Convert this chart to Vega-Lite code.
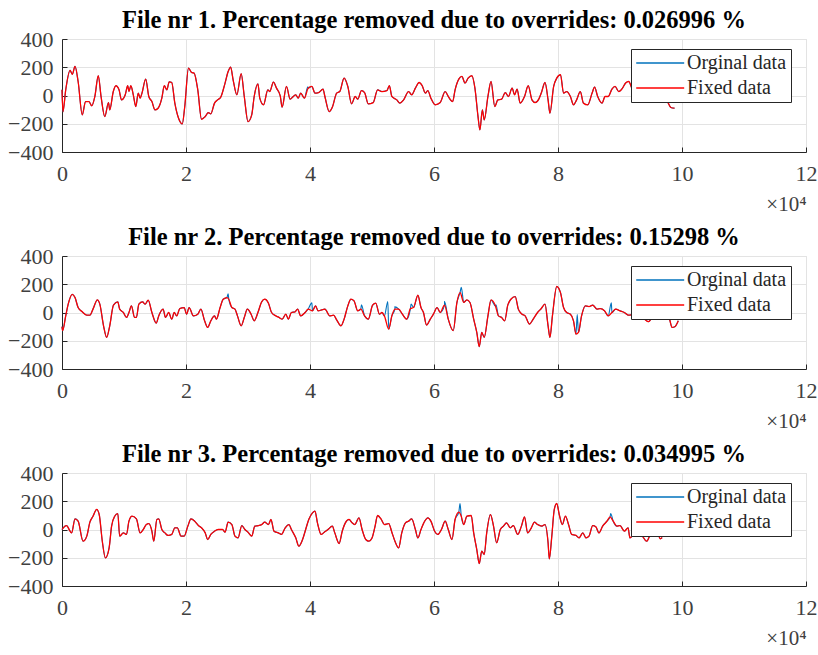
{
  "$schema": "https://vega.github.io/schema/vega-lite/v6.json",
  "padding": {"left": 7, "top": 7, "right": 0, "bottom": 0},
  "background": "white",
  "bounds": "flush",
  "spacing": 104,
  "config": {
    "font": "Liberation Serif",
    "view": {"stroke": "#e3e3e3"},
    "axis": {
      "labelFont": "Liberation Serif", "labelFontSize": 22, "labelColor": "#404040",
      "domainColor": "#262626", "domainWidth": 1, "gridColor": "#e3e3e3",
      "tickColor": "#262626", "tickSize": -5, "labelFlush": false, "titleFont": "Liberation Serif"
    },
    "axisX": {"labelPadding": 16},
    "axisY": {"labelPadding": 14},
    "title": {"font": "Liberation Serif", "fontSize": 24.5, "fontWeight": "bold", "color": "#000000", "anchor": "middle", "frame": "group", "offset": -5}
  },
  "resolve": {"scale": {"color": "independent"}, "legend": {"color": "independent"}},
  "datasets": {
    "d": [
      {"p":1,"x":0,"y":40},{"p":1,"x":150,"y":-115},{"p":1,"x":600,"y":40},{"p":1,"x":1300,"y":178},{"p":1,"x":1660,"y":150},{"p":1,"x":2100,"y":206},{"p":1,"x":2600,"y":99},{"p":1,"x":3270,"y":-137},{"p":1,"x":3800,"y":-43},{"p":1,"x":4350,"y":-43},{"p":1,"x":4800,"y":-73},{"p":1,"x":5300,"y":-7},{"p":1,"x":5850,"y":140},{"p":1,"x":6300,"y":-7},{"p":1,"x":6900,"y":-149},{"p":1,"x":7500,"y":-50},{"p":1,"x":7700,"y":-102},{"p":1,"x":8270,"y":28},{"p":1,"x":8700,"y":69},{"p":1,"x":9200,"y":40},{"p":1,"x":9600,"y":-31},{"p":1,"x":10200,"y":5},{"p":1,"x":10600,"y":69},{"p":1,"x":10800,"y":28},{"p":1,"x":11100,"y":69},{"p":1,"x":11500,"y":5},{"p":1,"x":11900,"y":-78},{"p":1,"x":12300,"y":17},{"p":1,"x":12600,"y":-19},{"p":1,"x":12900,"y":17},{"p":1,"x":13500,"y":116},{"p":1,"x":14000,"y":-7},{"p":1,"x":14500,"y":-43},{"p":1,"x":15000,"y":-102},{"p":1,"x":15500,"y":-90},{"p":1,"x":16100,"y":-19},{"p":1,"x":16500,"y":69},{"p":1,"x":16900,"y":40},{"p":1,"x":17300,"y":97},{"p":1,"x":17700,"y":92},{"p":1,"x":18200,"y":-54},{"p":1,"x":18800,"y":-161},{"p":1,"x":19400,"y":-201},{"p":1,"x":19800,"y":-78},{"p":1,"x":20400,"y":194},{"p":1,"x":20900,"y":163},{"p":1,"x":21300,"y":159},{"p":1,"x":21900,"y":40},{"p":1,"x":22500,"y":-168},{"p":1,"x":23100,"y":-149},{"p":1,"x":23600,"y":-121},{"p":1,"x":24000,"y":-130},{"p":1,"x":24600,"y":-54},{"p":1,"x":25100,"y":-31},{"p":1,"x":25600,"y":-12},{"p":1,"x":26300,"y":88},{"p":1,"x":26800,"y":170},{"p":1,"x":27200,"y":201},{"p":1,"x":27600,"y":111},{"p":1,"x":28200,"y":5},{"p":1,"x":28900,"y":154},{"p":1,"x":29400,"y":-7},{"p":1,"x":30000,"y":-185},{"p":1,"x":30600,"y":-137},{"p":1,"x":31000,"y":-7},{"p":1,"x":31600,"y":83},{"p":1,"x":31900,"y":-19},{"p":1,"x":32500,"y":-66},{"p":1,"x":33200,"y":40},{"p":1,"x":33500,"y":28},{"p":1,"x":34100,"y":95},{"p":1,"x":34600,"y":52},{"p":1,"x":35200,"y":-2},{"p":1,"x":35500,"y":-83},{"p":1,"x":36200,"y":64},{"p":1,"x":36800,"y":-26},{"p":1,"x":37300,"y":-7},{"p":1,"x":37700,"y":5},{"p":1,"x":38100,"y":-19},{"p":1,"x":38500,"y":17},{"p":1,"x":39100,"y":-19},{"p":1,"x":39700,"y":52},{"p":1,"x":40300,"y":64},{"p":1,"x":40800,"y":17},{"p":1,"x":41400,"y":21},{"p":1,"x":42100,"y":45},{"p":1,"x":42400,"y":-7},{"p":1,"x":43100,"y":-114},{"p":1,"x":43600,"y":-83},{"p":1,"x":44300,"y":17},{"p":1,"x":44800,"y":28},{"p":1,"x":45500,"y":123},{"p":1,"x":46100,"y":64},{"p":1,"x":46700,"y":-59},{"p":1,"x":47300,"y":-7},{"p":1,"x":47700,"y":-26},{"p":1,"x":48300,"y":35},{"p":1,"x":48800,"y":21},{"p":1,"x":49400,"y":-59},{"p":1,"x":50200,"y":-50},{"p":1,"x":50900,"y":40},{"p":1,"x":51600,"y":28},{"p":1,"x":52400,"y":35},{"p":1,"x":52800,"y":69},{"p":1,"x":53200,"y":-7},{"p":1,"x":54000,"y":-31},{"p":1,"x":54500,"y":-54},{"p":1,"x":55100,"y":-31},{"p":1,"x":55900,"y":28},{"p":1,"x":56400,"y":5},{"p":1,"x":57000,"y":52},{"p":1,"x":57600,"y":92},{"p":1,"x":58100,"y":69},{"p":1,"x":58600,"y":17},{"p":1,"x":59000,"y":35},{"p":1,"x":59500,"y":-19},{"p":1,"x":60200,"y":-66},{"p":1,"x":61000,"y":-50},{"p":1,"x":61800,"y":28},{"p":1,"x":62300,"y":-7},{"p":1,"x":63000,"y":-43},{"p":1,"x":63400,"y":40},{"p":1,"x":64000,"y":116},{"p":1,"x":64500,"y":135},{"p":1,"x":65000,"y":88},{"p":1,"x":65500,"y":123},{"p":1,"x":66100,"y":140},{"p":1,"x":66600,"y":52},{"p":1,"x":67100,"y":-149},{"p":1,"x":67400,"y":-244},{"p":1,"x":67800,"y":-102},{"p":1,"x":68100,"y":-173},{"p":1,"x":68700,"y":-7},{"p":1,"x":69200,"y":99},{"p":1,"x":69800,"y":-78},{"p":1,"x":70300,"y":-31},{"p":1,"x":70900,"y":-26},{"p":1,"x":71500,"y":21},{"p":1,"x":72000,"y":-7},{"p":1,"x":72600,"y":52},{"p":1,"x":73000,"y":5},{"p":1,"x":73400,"y":45},{"p":1,"x":73900,"y":-54},{"p":1,"x":74600,"y":-7},{"p":1,"x":75200,"y":69},{"p":1,"x":75800,"y":-31},{"p":1,"x":76300,"y":-50},{"p":1,"x":76900,"y":-26},{"p":1,"x":77300,"y":17},{"p":1,"x":77900,"y":92},{"p":1,"x":78400,"y":-31},{"p":1,"x":78700,"y":-125},{"p":1,"x":79300,"y":64},{"p":1,"x":79800,"y":123},{"p":1,"x":80400,"y":147},{"p":1,"x":80900,"y":17},{"p":1,"x":81400,"y":28},{"p":1,"x":82000,"y":-7},{"p":1,"x":82500,"y":-66},{"p":1,"x":83000,"y":-31},{"p":1,"x":83600,"y":28},{"p":1,"x":84100,"y":-54},{"p":1,"x":84800,"y":-66},{"p":1,"x":85500,"y":17},{"p":1,"x":85900,"y":59},{"p":1,"x":86400,"y":-7},{"p":1,"x":87100,"y":-54},{"p":1,"x":87600,"y":-7},{"p":1,"x":88100,"y":-7},{"p":1,"x":88700,"y":45},{"p":1,"x":89200,"y":64},{"p":1,"x":89800,"y":28},{"p":1,"x":90400,"y":52},{"p":1,"x":90900,"y":88},{"p":1,"x":91400,"y":99},{"p":1,"x":92000,"y":40},{"p":1,"x":93000,"y":-20},{"p":1,"x":94000,"y":10},{"p":1,"x":95000,"y":-30},{"p":1,"x":96000,"y":20},{"p":1,"x":97000,"y":-20},{"p":1,"x":97600,"y":-40},{"p":1,"x":98200,"y":-85},{"p":1,"x":98800,"y":-90},
      {"p":1,"x":39650,"y":62,"s":1},

      {"p":2,"x":0,"y":-100},{"p":2,"x":100,"y":-129},{"p":2,"x":600,"y":-24},{"p":2,"x":1000,"y":59},{"p":2,"x":1660,"y":129},{"p":2,"x":2100,"y":106},{"p":2,"x":2600,"y":35},{"p":2,"x":3270,"y":5},{"p":2,"x":4000,"y":-19},{"p":2,"x":4500,"y":-19},{"p":2,"x":5000,"y":24},{"p":2,"x":5700,"y":89},{"p":2,"x":6100,"y":59},{"p":2,"x":6700,"y":-94},{"p":2,"x":7200,"y":-176},{"p":2,"x":7700,"y":-94},{"p":2,"x":8300,"y":52},{"p":2,"x":9000,"y":75},{"p":2,"x":9300,"y":24},{"p":2,"x":9900,"y":0},{"p":2,"x":10400,"y":-35},{"p":2,"x":10800,"y":0},{"p":2,"x":11200,"y":47},{"p":2,"x":11700,"y":-35},{"p":2,"x":12000,"y":-35},{"p":2,"x":12400,"y":59},{"p":2,"x":13000,"y":75},{"p":2,"x":13400,"y":59},{"p":2,"x":13900,"y":87},{"p":2,"x":14500,"y":0},{"p":2,"x":15200,"y":-75},{"p":2,"x":15600,"y":-24},{"p":2,"x":16300,"y":24},{"p":2,"x":16700,"y":-35},{"p":2,"x":17200,"y":0},{"p":2,"x":17700,"y":-47},{"p":2,"x":18100,"y":0},{"p":2,"x":18500,"y":-24},{"p":2,"x":19000,"y":28},{"p":2,"x":19700,"y":35},{"p":2,"x":20100,"y":-12},{"p":2,"x":20500,"y":35},{"p":2,"x":21200,"y":-24},{"p":2,"x":21900,"y":-12},{"p":2,"x":22400,"y":24},{"p":2,"x":23000,"y":-59},{"p":2,"x":23500,"y":-106},{"p":2,"x":24000,"y":-59},{"p":2,"x":24600,"y":-24},{"p":2,"x":24900,"y":-47},{"p":2,"x":25500,"y":35},{"p":2,"x":26000,"y":94},{"p":2,"x":26600,"y":106},{"p":2,"x":26900,"y":94},{"p":2,"x":27400,"y":35},{"p":2,"x":27900,"y":24},{"p":2,"x":28300,"y":-24},{"p":2,"x":28900,"y":-94},{"p":2,"x":29400,"y":-35},{"p":2,"x":29900,"y":24},{"p":2,"x":30500,"y":-12},{"p":2,"x":31000,"y":-59},{"p":2,"x":31600,"y":0},{"p":2,"x":32200,"y":75},{"p":2,"x":32700,"y":94},{"p":2,"x":33300,"y":66},{"p":2,"x":33800,"y":0},{"p":2,"x":34500,"y":-24},{"p":2,"x":35000,"y":-35},{"p":2,"x":35500,"y":-47},{"p":2,"x":36100,"y":-12},{"p":2,"x":36500,"y":-47},{"p":2,"x":37000,"y":0},{"p":2,"x":37600,"y":5},{"p":2,"x":38000,"y":24},{"p":2,"x":38500,"y":-24},{"p":2,"x":39200,"y":0},{"p":2,"x":39700,"y":24},{"p":2,"x":40400,"y":12},{"p":2,"x":40900,"y":47},{"p":2,"x":41300,"y":12},{"p":2,"x":41900,"y":19},{"p":2,"x":42400,"y":24},{"p":2,"x":43200,"y":-24},{"p":2,"x":43800,"y":-19},{"p":2,"x":44300,"y":-52},{"p":2,"x":45000,"y":-94},{"p":2,"x":45500,"y":-47},{"p":2,"x":46100,"y":47},{"p":2,"x":46600,"y":94},{"p":2,"x":47100,"y":82},{"p":2,"x":47700,"y":12},{"p":2,"x":48200,"y":24},{"p":2,"x":48800,"y":-24},{"p":2,"x":49400,"y":-47},{"p":2,"x":50100,"y":52},{"p":2,"x":50600,"y":66},{"p":2,"x":51200,"y":-12},{"p":2,"x":51600,"y":0},{"p":2,"x":52000,"y":-24},{"p":2,"x":52700,"y":-118},{"p":2,"x":53200,"y":-24},{"p":2,"x":53700,"y":24},{"p":2,"x":54300,"y":24},{"p":2,"x":54900,"y":-12},{"p":2,"x":55600,"y":-47},{"p":2,"x":56200,"y":28},{"p":2,"x":56700,"y":35},{"p":2,"x":57400,"y":122},{"p":2,"x":57900,"y":35},{"p":2,"x":58300,"y":0},{"p":2,"x":58800,"y":-89},{"p":2,"x":59400,"y":-47},{"p":2,"x":59900,"y":-12},{"p":2,"x":60500,"y":35},{"p":2,"x":61000,"y":0},{"p":2,"x":61700,"y":52},{"p":2,"x":62300,"y":-47},{"p":2,"x":63100,"y":-129},{"p":2,"x":63700,"y":71},{"p":2,"x":64200,"y":141},{"p":2,"x":64800,"y":71},{"p":2,"x":65300,"y":89},{"p":2,"x":65800,"y":71},{"p":2,"x":66400,"y":-47},{"p":2,"x":66900,"y":-141},{"p":2,"x":67300,"y":-242},{"p":2,"x":67700,"y":-141},{"p":2,"x":68100,"y":-176},{"p":2,"x":68700,"y":-24},{"p":2,"x":69200,"y":89},{"p":2,"x":69900,"y":47},{"p":2,"x":70400,"y":-24},{"p":2,"x":70900,"y":-35},{"p":2,"x":71400,"y":-59},{"p":2,"x":71900,"y":52},{"p":2,"x":72400,"y":94},{"p":2,"x":73100,"y":113},{"p":2,"x":73600,"y":24},{"p":2,"x":74200,"y":-12},{"p":2,"x":74700,"y":-24},{"p":2,"x":75400,"y":-82},{"p":2,"x":76000,"y":-47},{"p":2,"x":76700,"y":0},{"p":2,"x":77300,"y":28},{"p":2,"x":77900,"y":59},{"p":2,"x":78400,"y":-94},{"p":2,"x":78700,"y":-176},{"p":2,"x":79100,"y":-24},{"p":2,"x":79800,"y":184},{"p":2,"x":80400,"y":141},{"p":2,"x":80900,"y":35},{"p":2,"x":81400,"y":0},{"p":2,"x":82000,"y":-12},{"p":2,"x":82500,"y":-59},{"p":2,"x":82900,"y":-153},{"p":2,"x":83300,"y":-141},{"p":2,"x":83800,"y":-24},{"p":2,"x":84400,"y":47},{"p":2,"x":85000,"y":42},{"p":2,"x":85600,"y":52},{"p":2,"x":86300,"y":24},{"p":2,"x":86800,"y":28},{"p":2,"x":87500,"y":12},{"p":2,"x":88100,"y":-24},{"p":2,"x":88700,"y":0},{"p":2,"x":89300,"y":24},{"p":2,"x":90000,"y":12},{"p":2,"x":90700,"y":0},{"p":2,"x":91400,"y":-19},{"p":2,"x":92500,"y":-10},{"p":2,"x":93500,"y":-30},{"p":2,"x":94600,"y":-65},{"p":2,"x":95500,"y":-20},{"p":2,"x":96500,"y":-40},{"p":2,"x":97500,"y":-10},{"p":2,"x":98000,"y":-50},{"p":2,"x":98400,"y":-106},{"p":2,"x":98900,"y":-99},{"p":2,"x":99400,"y":-59},
      {"p":2,"x":26800,"y":132,"s":1},{"p":2,"x":40300,"y":68,"s":1},{"p":2,"x":48300,"y":55,"s":1},{"p":2,"x":52550,"y":78,"s":1},{"p":2,"x":53700,"y":40,"s":1},{"p":2,"x":56300,"y":60,"s":1},{"p":2,"x":61700,"y":78,"s":1},{"p":2,"x":64400,"y":178,"s":1},{"p":2,"x":70000,"y":55,"s":1},{"p":2,"x":83100,"y":-15,"s":1},{"p":2,"x":88600,"y":68,"s":1},

      {"p":3,"x":0,"y":0},{"p":3,"x":200,"y":12},{"p":3,"x":740,"y":28},{"p":3,"x":1300,"y":-12},{"p":3,"x":1550,"y":-24},{"p":3,"x":2100,"y":75},{"p":3,"x":2600,"y":59},{"p":3,"x":3400,"y":-83},{"p":3,"x":4000,"y":-47},{"p":3,"x":4500,"y":52},{"p":3,"x":5000,"y":94},{"p":3,"x":5600,"y":142},{"p":3,"x":6000,"y":106},{"p":3,"x":6500,"y":-83},{"p":3,"x":7000,"y":-201},{"p":3,"x":7600,"y":-130},{"p":3,"x":8000,"y":24},{"p":3,"x":8500,"y":94},{"p":3,"x":9000,"y":113},{"p":3,"x":9300,"y":-47},{"p":3,"x":9900,"y":-24},{"p":3,"x":10400,"y":-35},{"p":3,"x":10800,"y":59},{"p":3,"x":11300,"y":94},{"p":3,"x":12000,"y":75},{"p":3,"x":12600,"y":-24},{"p":3,"x":13100,"y":0},{"p":3,"x":13600,"y":35},{"p":3,"x":14000,"y":42},{"p":3,"x":14500,"y":-12},{"p":3,"x":14800,"y":-83},{"p":3,"x":15300,"y":71},{"p":3,"x":15600,"y":75},{"p":3,"x":16100,"y":0},{"p":3,"x":16600,"y":-24},{"p":3,"x":17100,"y":-42},{"p":3,"x":17700,"y":-35},{"p":3,"x":18200,"y":12},{"p":3,"x":18600,"y":12},{"p":3,"x":19200,"y":-47},{"p":3,"x":19700,"y":-47},{"p":3,"x":20300,"y":24},{"p":3,"x":20800,"y":75},{"p":3,"x":21400,"y":59},{"p":3,"x":22000,"y":28},{"p":3,"x":22500,"y":12},{"p":3,"x":23100,"y":-24},{"p":3,"x":23500,"y":-71},{"p":3,"x":24000,"y":-35},{"p":3,"x":24600,"y":-12},{"p":3,"x":25200,"y":0},{"p":3,"x":25900,"y":0},{"p":3,"x":26300,"y":-19},{"p":3,"x":26800,"y":52},{"p":3,"x":27400,"y":35},{"p":3,"x":27900,"y":-47},{"p":3,"x":28400,"y":-59},{"p":3,"x":29000,"y":28},{"p":3,"x":29500,"y":0},{"p":3,"x":30000,"y":-19},{"p":3,"x":30600,"y":-47},{"p":3,"x":31100,"y":24},{"p":3,"x":31700,"y":28},{"p":3,"x":32200,"y":35},{"p":3,"x":32700,"y":52},{"p":3,"x":33300,"y":35},{"p":3,"x":33700,"y":71},{"p":3,"x":34200,"y":-12},{"p":3,"x":34900,"y":-24},{"p":3,"x":35400,"y":-35},{"p":3,"x":36000,"y":12},{"p":3,"x":36600,"y":35},{"p":3,"x":37000,"y":0},{"p":3,"x":37700,"y":-59},{"p":3,"x":38200,"y":-118},{"p":3,"x":38800,"y":-71},{"p":3,"x":39300,"y":0},{"p":3,"x":39800,"y":71},{"p":3,"x":40400,"y":118},{"p":3,"x":40800,"y":130},{"p":3,"x":41200,"y":47},{"p":3,"x":41800,"y":-35},{"p":3,"x":42300,"y":-19},{"p":3,"x":42900,"y":0},{"p":3,"x":43600,"y":24},{"p":3,"x":44000,"y":-24},{"p":3,"x":44700,"y":-99},{"p":3,"x":45200,"y":-12},{"p":3,"x":45700,"y":47},{"p":3,"x":46300,"y":71},{"p":3,"x":46800,"y":47},{"p":3,"x":47200,"y":35},{"p":3,"x":47900,"y":83},{"p":3,"x":48400,"y":0},{"p":3,"x":49000,"y":-71},{"p":3,"x":49500,"y":-83},{"p":3,"x":50000,"y":-60},{"p":3,"x":50500,"y":24},{"p":3,"x":50900,"y":99},{"p":3,"x":51500,"y":71},{"p":3,"x":52000,"y":35},{"p":3,"x":52700,"y":42},{"p":3,"x":53200,"y":-19},{"p":3,"x":53700,"y":-83},{"p":3,"x":54300,"y":-130},{"p":3,"x":54800,"y":-24},{"p":3,"x":55400,"y":47},{"p":3,"x":55900,"y":59},{"p":3,"x":56400,"y":75},{"p":3,"x":57000,"y":0},{"p":3,"x":57400,"y":-59},{"p":3,"x":57900,"y":0},{"p":3,"x":58500,"y":59},{"p":3,"x":59000,"y":83},{"p":3,"x":59500,"y":59},{"p":3,"x":60100,"y":-12},{"p":3,"x":60600,"y":-35},{"p":3,"x":61200,"y":0},{"p":3,"x":61800,"y":59},{"p":3,"x":62300,"y":0},{"p":3,"x":62900,"y":-71},{"p":3,"x":63400,"y":71},{"p":3,"x":64000,"y":123},{"p":3,"x":64400,"y":94},{"p":3,"x":64800,"y":35},{"p":3,"x":65300,"y":94},{"p":3,"x":66000,"y":99},{"p":3,"x":66400,"y":-24},{"p":3,"x":66900,"y":-142},{"p":3,"x":67300,"y":-241},{"p":3,"x":67700,"y":-153},{"p":3,"x":68100,"y":-177},{"p":3,"x":68500,"y":-24},{"p":3,"x":69100,"y":106},{"p":3,"x":69600,"y":24},{"p":3,"x":70100,"y":-94},{"p":3,"x":70700,"y":0},{"p":3,"x":71200,"y":24},{"p":3,"x":71700,"y":47},{"p":3,"x":72300,"y":12},{"p":3,"x":72800,"y":28},{"p":3,"x":73500,"y":-35},{"p":3,"x":74100,"y":24},{"p":3,"x":74600,"y":89},{"p":3,"x":75100,"y":-24},{"p":3,"x":75700,"y":12},{"p":3,"x":76200,"y":52},{"p":3,"x":76700,"y":35},{"p":3,"x":77400,"y":24},{"p":3,"x":77900,"y":35},{"p":3,"x":78400,"y":-94},{"p":3,"x":78600,"y":-208},{"p":3,"x":79000,"y":-47},{"p":3,"x":79400,"y":142},{"p":3,"x":79800,"y":184},{"p":3,"x":80200,"y":106},{"p":3,"x":80700,"y":35},{"p":3,"x":81200,"y":94},{"p":3,"x":81700,"y":35},{"p":3,"x":82200,"y":-35},{"p":3,"x":82900,"y":-42},{"p":3,"x":83400,"y":-59},{"p":3,"x":84000,"y":-24},{"p":3,"x":84500,"y":-59},{"p":3,"x":85000,"y":-47},{"p":3,"x":85600,"y":28},{"p":3,"x":86100,"y":19},{"p":3,"x":86600,"y":-24},{"p":3,"x":87200,"y":24},{"p":3,"x":87900,"y":59},{"p":3,"x":88400,"y":89},{"p":3,"x":88900,"y":59},{"p":3,"x":89500,"y":24},{"p":3,"x":90000,"y":28},{"p":3,"x":90700,"y":-12},{"p":3,"x":91300,"y":12},{"p":3,"x":91600,"y":-59},{"p":3,"x":92500,"y":-20},{"p":3,"x":93500,"y":-40},{"p":3,"x":94300,"y":-83},{"p":3,"x":95000,"y":-30},{"p":3,"x":96000,"y":-20},{"p":3,"x":96500,"y":-66},{"p":3,"x":96800,"y":-57},
      {"p":3,"x":64200,"y":184,"s":1},{"p":3,"x":88500,"y":113,"s":1}
    ]
  },
  "vconcat": [
    {
      "width": 744, "height": 113,
      "title": "File nr 1. Percentage removed due to overrides: 0.026996 %",
      "data": {"name": "d"},
      "transform": [{"filter": "datum.p == 1"}],
      "encoding": {
        "x": {"field": "x", "type": "quantitative", "scale": {"domain": [0, 120000], "nice": false},
              "axis": {"values": [0,20000,40000,60000,80000,100000,120000], "labelExpr": "datum.value/10000", "labelFont": "Liberation Serif", "labelFontSize": 22, "title": "×10⁴", "titleFont": "Liberation Serif", "titleAnchor": "end", "titleAlign": "right", "titleFontSize": 21, "titleFontWeight": "normal", "titleColor": "#404040", "titlePadding": 9}},
        "y": {"field": "y", "type": "quantitative", "scale": {"domain": [-400, 400], "nice": false},
              "axis": {"values": [-400,-200,0,200,400], "labelFont": "Liberation Serif", "labelFontSize": 22, "title": null}}
      },
      "layer": [
        {"mark": {"type": "line", "strokeWidth": 1.1, "interpolate": "monotone"},
         "encoding": {"color": {"datum": "Orginal data", "scale": {"domain": ["Orginal data","Fixed data"], "range": ["#0072BD","#FF0000"]},
           "legend": {"title": null, "orient": "none", "legendX": 569, "legendY": 10, "fillColor": "white", "strokeColor": "#262626", "padding": 4, "labelFont": "Liberation Serif", "labelFontSize": 20, "labelColor": "#262626", "symbolType": "M-1.83,0H8.17", "symbolSize": 92, "symbolStrokeWidth": 1.3, "labelOffset": 32, "rowPadding": 5}}}},
        {"transform": [{"filter": "!datum.s"}],
         "mark": {"type": "line", "strokeWidth": 1.3, "interpolate": "monotone"},
         "encoding": {"color": {"datum": "Fixed data"}}}
      ]
    },
    {
      "width": 744, "height": 113,
      "title": "File nr 2. Percentage removed due to overrides: 0.15298 %",
      "data": {"name": "d"},
      "transform": [{"filter": "datum.p == 2"}],
      "encoding": {
        "x": {"field": "x", "type": "quantitative", "scale": {"domain": [0, 120000], "nice": false},
              "axis": {"values": [0,20000,40000,60000,80000,100000,120000], "labelExpr": "datum.value/10000", "labelFont": "Liberation Serif", "labelFontSize": 22, "title": "×10⁴", "titleFont": "Liberation Serif", "titleAnchor": "end", "titleAlign": "right", "titleFontSize": 21, "titleFontWeight": "normal", "titleColor": "#404040", "titlePadding": 9}},
        "y": {"field": "y", "type": "quantitative", "scale": {"domain": [-400, 400], "nice": false},
              "axis": {"values": [-400,-200,0,200,400], "labelFont": "Liberation Serif", "labelFontSize": 22, "title": null}}
      },
      "layer": [
        {"mark": {"type": "line", "strokeWidth": 1.1, "interpolate": "monotone"},
         "encoding": {"color": {"datum": "Orginal data", "scale": {"domain": ["Orginal data","Fixed data"], "range": ["#0072BD","#FF0000"]},
           "legend": {"title": null, "orient": "none", "legendX": 569, "legendY": 10, "fillColor": "white", "strokeColor": "#262626", "padding": 4, "labelFont": "Liberation Serif", "labelFontSize": 20, "labelColor": "#262626", "symbolType": "M-1.83,0H8.17", "symbolSize": 92, "symbolStrokeWidth": 1.3, "labelOffset": 32, "rowPadding": 5}}}},
        {"transform": [{"filter": "!datum.s"}],
         "mark": {"type": "line", "strokeWidth": 1.3, "interpolate": "monotone"},
         "encoding": {"color": {"datum": "Fixed data"}}}
      ]
    },
    {
      "width": 744, "height": 113,
      "title": "File nr 3. Percentage removed due to overrides: 0.034995 %",
      "data": {"name": "d"},
      "transform": [{"filter": "datum.p == 3"}],
      "encoding": {
        "x": {"field": "x", "type": "quantitative", "scale": {"domain": [0, 120000], "nice": false},
              "axis": {"values": [0,20000,40000,60000,80000,100000,120000], "labelExpr": "datum.value/10000", "labelFont": "Liberation Serif", "labelFontSize": 22, "title": "×10⁴", "titleFont": "Liberation Serif", "titleAnchor": "end", "titleAlign": "right", "titleFontSize": 21, "titleFontWeight": "normal", "titleColor": "#404040", "titlePadding": 9}},
        "y": {"field": "y", "type": "quantitative", "scale": {"domain": [-400, 400], "nice": false},
              "axis": {"values": [-400,-200,0,200,400], "labelFont": "Liberation Serif", "labelFontSize": 22, "title": null}}
      },
      "layer": [
        {"mark": {"type": "line", "strokeWidth": 1.1, "interpolate": "monotone"},
         "encoding": {"color": {"datum": "Orginal data", "scale": {"domain": ["Orginal data","Fixed data"], "range": ["#0072BD","#FF0000"]},
           "legend": {"title": null, "orient": "none", "legendX": 569, "legendY": 10, "fillColor": "white", "strokeColor": "#262626", "padding": 4, "labelFont": "Liberation Serif", "labelFontSize": 20, "labelColor": "#262626", "symbolType": "M-1.83,0H8.17", "symbolSize": 92, "symbolStrokeWidth": 1.3, "labelOffset": 32, "rowPadding": 5}}}},
        {"transform": [{"filter": "!datum.s"}],
         "mark": {"type": "line", "strokeWidth": 1.3, "interpolate": "monotone"},
         "encoding": {"color": {"datum": "Fixed data"}}}
      ]
    }
  ]
}
